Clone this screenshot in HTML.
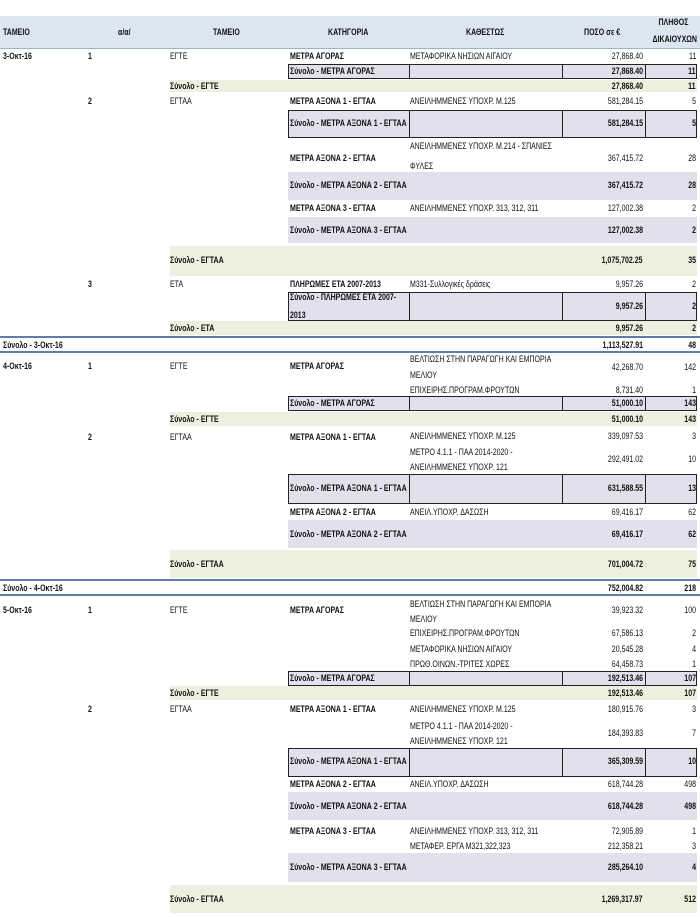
<!DOCTYPE html>
<html><head><meta charset="utf-8"><style>
body{margin:0;width:700px;height:917px;background:#fff;position:relative;overflow:hidden;font-family:"Liberation Sans Narrow","Liberation Sans",sans-serif;font-size:9px;color:#111}
div{position:absolute;white-space:nowrap;line-height:12px;transform:scaleX(0.78);transform-origin:left center}
.b{font-weight:bold}
.n{right:57px;text-align:right;transform-origin:right center}
.c{right:4px;text-align:right;transform-origin:right center}
.hd,.pu,.gr,.vl,.bl,.ln{transform:none}
.hd{left:0;width:700px;top:16px;height:32px;background:#dce6f1}
.pu{background:#e4dfec;left:288px;width:409px}
.gr{background:#ebf1de;left:170px;width:527px}
.bx{border:1px solid #222;box-sizing:border-box}
.vl{width:1px;background:#222}
.bl{left:0;width:700px;height:2px;background:#5b7fa8}
</style></head><body>
<div class="hd"></div>
<div class="b" style="left:3px;top:26px">ΤΑΜΕΙΟ</div>
<div class="b" style="left:118px;top:26px">α/α/</div>
<div class="b" style="left:213px;top:26px">ΤΑΜΕΙΟ</div>
<div class="b" style="left:328px;top:26px">ΚΑΤΗΓΟΡΙΑ</div>
<div class="b" style="left:466px;top:26px">ΚΑΘΕΣΤΩΣ</div>
<div class="b" style="left:584px;top:26px">ΠΟΣΟ σε €</div>
<div class="b c" style="right:12px;top:16px">ΠΛΗΘΟΣ</div>
<div class="b c" style="right:3px;top:33px">ΔΙΚΑΙΟΥΧΩΝ</div>
<div class="ln" style="left:0;top:48px;width:700px;height:1px;background:#9bb3d0"></div>

<!-- 3-Oct -->
<div class="pu bx" style="top:64px;height:15px"></div>
<div class="gr" style="top:80px;height:12px"></div>
<div class="pu bx" style="top:110px;height:28px"></div>
<div class="pu" style="top:172px;height:28px"></div>
<div class="pu" style="top:217px;height:26px"></div>
<div class="gr" style="top:246px;height:30px"></div>
<div class="pu bx" style="top:292px;height:29px"></div>
<div class="gr" style="top:321px;height:14px"></div>
<div class="vl" style="left:409px;top:64px;height:15px"></div><div class="vl" style="left:562px;top:64px;height:15px"></div><div class="vl" style="left:645px;top:64px;height:15px"></div>
<div class="vl" style="left:409px;top:110px;height:28px"></div><div class="vl" style="left:562px;top:110px;height:28px"></div><div class="vl" style="left:645px;top:110px;height:28px"></div>
<div class="vl" style="left:409px;top:292px;height:29px"></div><div class="vl" style="left:562px;top:292px;height:29px"></div><div class="vl" style="left:645px;top:292px;height:29px"></div>

<div class="b" style="left:3px;top:50px">3-Οκτ-16</div>
<div class="b" style="left:88px;top:50px">1</div>
<div style="left:170px;top:50px">ΕΓΤΕ</div>
<div class="b" style="left:290px;top:50px">ΜΕΤΡΑ ΑΓΟΡΑΣ</div>
<div style="left:410px;top:50px">ΜΕΤΑΦΟΡΙΚΑ ΝΗΣΙΩΝ ΑΙΓΑΙΟΥ</div>
<div class="n" style="top:50px">27,868.40</div><div class="c" style="top:50px">11</div>
<div class="b" style="left:290px;top:65px">Σύνολο - ΜΕΤΡΑ ΑΓΟΡΑΣ</div>
<div class="n b" style="top:65px">27,868.40</div><div class="c b" style="top:65px">11</div>
<div class="b" style="left:170px;top:80px">Σύνολο - ΕΓΤΕ</div>
<div class="n b" style="top:80px">27,868.40</div><div class="c b" style="top:80px">11</div>
<div class="b" style="left:88px;top:95px">2</div>
<div style="left:170px;top:95px">ΕΓΤΑΑ</div>
<div class="b" style="left:290px;top:95px">ΜΕΤΡΑ ΑΞΟΝΑ 1 - ΕΓΤΑΑ</div>
<div style="left:410px;top:95px">ΑΝΕΙΛΗΜΜΕΝΕΣ ΥΠΟΧΡ. Μ.125</div>
<div class="n" style="top:95px">581,284.15</div><div class="c" style="top:95px">5</div>
<div class="b" style="left:290px;top:117px">Σύνολο - ΜΕΤΡΑ ΑΞΟΝΑ 1 - ΕΓΤΑΑ</div>
<div class="n b" style="top:117px">581,284.15</div><div class="c b" style="top:117px">5</div>
<div class="b" style="left:290px;top:152px">ΜΕΤΡΑ ΑΞΟΝΑ 2 - ΕΓΤΑΑ</div>
<div style="left:410px;top:140px">ΑΝΕΙΛΗΜΜΕΝΕΣ ΥΠΟΧΡ. Μ.214 - ΣΠΑΝΙΕΣ</div>
<div style="left:410px;top:160px">ΦΥΛΕΣ</div>
<div class="n" style="top:152px">367,415.72</div><div class="c" style="top:152px">28</div>
<div class="b" style="left:290px;top:179px">Σύνολο - ΜΕΤΡΑ ΑΞΟΝΑ 2 - ΕΓΤΑΑ</div>
<div class="n b" style="top:179px">367,415.72</div><div class="c b" style="top:179px">28</div>
<div class="b" style="left:290px;top:202px">ΜΕΤΡΑ ΑΞΟΝΑ 3 - ΕΓΤΑΑ</div>
<div style="left:410px;top:202px">ΑΝΕΙΛΗΜΜΕΝΕΣ ΥΠΟΧΡ. 313, 312, 311</div>
<div class="n" style="top:202px">127,002.38</div><div class="c" style="top:202px">2</div>
<div class="b" style="left:290px;top:224px">Σύνολο - ΜΕΤΡΑ ΑΞΟΝΑ 3 - ΕΓΤΑΑ</div>
<div class="n b" style="top:224px">127,002.38</div><div class="c b" style="top:224px">2</div>
<div class="b" style="left:170px;top:254px">Σύνολο - ΕΓΤΑΑ</div>
<div class="n b" style="top:254px">1,075,702.25</div><div class="c b" style="top:254px">35</div>
<div class="b" style="left:88px;top:278px">3</div>
<div style="left:170px;top:278px">ΕΤΑ</div>
<div class="b" style="left:290px;top:278px">ΠΛΗΡΩΜΕΣ ΕΤΑ 2007-2013</div>
<div style="left:410px;top:278px">Μ331-Συλλογικές δράσεις</div>
<div class="n" style="top:278px">9,957.26</div><div class="c" style="top:278px">2</div>
<div class="b" style="left:290px;top:291px">Σύνολο - ΠΛΗΡΩΜΕΣ ΕΤΑ 2007-</div>
<div class="b" style="left:290px;top:309px">2013</div>
<div class="n b" style="top:300px">9,957.26</div><div class="c b" style="top:300px">2</div>
<div class="b" style="left:170px;top:322px">Σύνολο - ΕΤΑ</div>
<div class="n b" style="top:322px">9,957.26</div><div class="c b" style="top:322px">2</div>
<div class="bl" style="top:336px"></div>
<div class="b" style="left:3px;top:339px">Σύνολο - 3-Οκτ-16</div>
<div class="n b" style="top:339px">1,113,527.91</div><div class="c b" style="top:339px">48</div>
<div class="bl" style="top:351px"></div>

<!-- 4-Oct -->
<div class="pu bx" style="top:396px;height:15px"></div>
<div class="gr" style="top:412px;height:14px"></div>
<div class="pu bx" style="top:474px;height:30px"></div>
<div class="pu" style="top:520px;height:28px"></div>
<div class="gr" style="top:550px;height:28px"></div>
<div class="vl" style="left:409px;top:396px;height:15px"></div><div class="vl" style="left:562px;top:396px;height:15px"></div><div class="vl" style="left:645px;top:396px;height:15px"></div>
<div class="vl" style="left:409px;top:474px;height:30px"></div><div class="vl" style="left:562px;top:474px;height:30px"></div><div class="vl" style="left:645px;top:474px;height:30px"></div>

<div class="b" style="left:3px;top:360px">4-Οκτ-16</div>
<div class="b" style="left:88px;top:360px">1</div>
<div style="left:170px;top:360px">ΕΓΤΕ</div>
<div class="b" style="left:290px;top:360px">ΜΕΤΡΑ ΑΓΟΡΑΣ</div>
<div style="left:410px;top:353px">ΒΕΛΤΙΩΣΗ ΣΤΗΝ ΠΑΡΑΓΩΓΗ ΚΑΙ ΕΜΠΟΡΙΑ</div>
<div style="left:410px;top:369px">ΜΕΛΙΟΥ</div>
<div class="n" style="top:361px">42,268.70</div><div class="c" style="top:361px">142</div>
<div style="left:410px;top:384px">ΕΠΙΧΕΙΡΗΣ.ΠΡΟΓΡΑΜ.ΦΡΟΥΤΩΝ</div>
<div class="n" style="top:384px">8,731.40</div><div class="c" style="top:384px">1</div>
<div class="b" style="left:290px;top:397px">Σύνολο - ΜΕΤΡΑ ΑΓΟΡΑΣ</div>
<div class="n b" style="top:397px">51,000.10</div><div class="c b" style="top:397px">143</div>
<div class="b" style="left:170px;top:413px">Σύνολο - ΕΓΤΕ</div>
<div class="n b" style="top:413px">51,000.10</div><div class="c b" style="top:413px">143</div>
<div class="b" style="left:88px;top:431px">2</div>
<div style="left:170px;top:431px">ΕΓΤΑΑ</div>
<div class="b" style="left:290px;top:431px">ΜΕΤΡΑ ΑΞΟΝΑ 1 - ΕΓΤΑΑ</div>
<div style="left:410px;top:430px">ΑΝΕΙΛΗΜΜΕΝΕΣ ΥΠΟΧΡ. Μ.125</div>
<div class="n" style="top:430px">339,097.53</div><div class="c" style="top:430px">3</div>
<div style="left:410px;top:446px">ΜΕΤΡΟ 4.1.1 - ΠΑΑ 2014-2020 -</div>
<div style="left:410px;top:461px">ΑΝΕΙΛΗΜΜΕΝΕΣ ΥΠΟΧΡ. 121</div>
<div class="n" style="top:453px">292,491.02</div><div class="c" style="top:453px">10</div>
<div class="b" style="left:290px;top:482px">Σύνολο - ΜΕΤΡΑ ΑΞΟΝΑ 1 - ΕΓΤΑΑ</div>
<div class="n b" style="top:482px">631,588.55</div><div class="c b" style="top:482px">13</div>
<div class="b" style="left:290px;top:506px">ΜΕΤΡΑ ΑΞΟΝΑ 2 - ΕΓΤΑΑ</div>
<div style="left:410px;top:506px">ΑΝΕΙΛ.ΥΠΟΧΡ. ΔΑΣΩΣΗ</div>
<div class="n" style="top:506px">69,416.17</div><div class="c" style="top:506px">62</div>
<div class="b" style="left:290px;top:528px">Σύνολο - ΜΕΤΡΑ ΑΞΟΝΑ 2 - ΕΓΤΑΑ</div>
<div class="n b" style="top:528px">69,416.17</div><div class="c b" style="top:528px">62</div>
<div class="b" style="left:170px;top:558px">Σύνολο - ΕΓΤΑΑ</div>
<div class="n b" style="top:558px">701,004.72</div><div class="c b" style="top:558px">75</div>
<div class="bl" style="top:579px"></div>
<div class="b" style="left:3px;top:582px">Σύνολο - 4-Οκτ-16</div>
<div class="n b" style="top:582px">752,004.82</div><div class="c b" style="top:582px">218</div>
<div class="bl" style="top:594px"></div>

<!-- 5-Oct -->
<div class="pu bx" style="top:671px;height:15px"></div>
<div class="gr" style="top:686px;height:14px"></div>
<div class="pu bx" style="top:748px;height:29px"></div>
<div class="pu" style="top:792px;height:28px"></div>
<div class="pu" style="top:853px;height:29px"></div>
<div class="gr" style="top:885px;height:28px"></div>
<div class="vl" style="left:409px;top:671px;height:15px"></div><div class="vl" style="left:562px;top:671px;height:15px"></div><div class="vl" style="left:645px;top:671px;height:15px"></div>
<div class="vl" style="left:409px;top:748px;height:29px"></div><div class="vl" style="left:562px;top:748px;height:29px"></div><div class="vl" style="left:645px;top:748px;height:29px"></div>

<div class="b" style="left:3px;top:604px">5-Οκτ-16</div>
<div class="b" style="left:88px;top:604px">1</div>
<div style="left:170px;top:604px">ΕΓΤΕ</div>
<div class="b" style="left:290px;top:604px">ΜΕΤΡΑ ΑΓΟΡΑΣ</div>
<div style="left:410px;top:598px">ΒΕΛΤΙΩΣΗ ΣΤΗΝ ΠΑΡΑΓΩΓΗ ΚΑΙ ΕΜΠΟΡΙΑ</div>
<div style="left:410px;top:613px">ΜΕΛΙΟΥ</div>
<div class="n" style="top:604px">39,923.32</div><div class="c" style="top:604px">100</div>
<div style="left:410px;top:627px">ΕΠΙΧΕΙΡΗΣ.ΠΡΟΓΡΑΜ.ΦΡΟΥΤΩΝ</div>
<div class="n" style="top:627px">67,586.13</div><div class="c" style="top:627px">2</div>
<div style="left:410px;top:643px">ΜΕΤΑΦΟΡΙΚΑ ΝΗΣΙΩΝ ΑΙΓΑΙΟΥ</div>
<div class="n" style="top:643px">20,545.28</div><div class="c" style="top:643px">4</div>
<div style="left:410px;top:658px">ΠΡΩΘ.ΟΙΝΩΝ.-ΤΡΙΤΕΣ ΧΩΡΕΣ</div>
<div class="n" style="top:658px">64,458.73</div><div class="c" style="top:658px">1</div>
<div class="b" style="left:290px;top:672px">Σύνολο - ΜΕΤΡΑ ΑΓΟΡΑΣ</div>
<div class="n b" style="top:672px">192,513.46</div><div class="c b" style="top:672px">107</div>
<div class="b" style="left:170px;top:687px">Σύνολο - ΕΓΤΕ</div>
<div class="n b" style="top:687px">192,513.46</div><div class="c b" style="top:687px">107</div>
<div class="b" style="left:88px;top:703px">2</div>
<div style="left:170px;top:703px">ΕΓΤΑΑ</div>
<div class="b" style="left:290px;top:703px">ΜΕΤΡΑ ΑΞΟΝΑ 1 - ΕΓΤΑΑ</div>
<div style="left:410px;top:703px">ΑΝΕΙΛΗΜΜΕΝΕΣ ΥΠΟΧΡ. Μ.125</div>
<div class="n" style="top:703px">180,915.76</div><div class="c" style="top:703px">3</div>
<div style="left:410px;top:720px">ΜΕΤΡΟ 4.1.1 - ΠΑΑ 2014-2020 -</div>
<div style="left:410px;top:735px">ΑΝΕΙΛΗΜΜΕΝΕΣ ΥΠΟΧΡ. 121</div>
<div class="n" style="top:727px">184,393.83</div><div class="c" style="top:727px">7</div>
<div class="b" style="left:290px;top:755px">Σύνολο - ΜΕΤΡΑ ΑΞΟΝΑ 1 - ΕΓΤΑΑ</div>
<div class="n b" style="top:755px">365,309.59</div><div class="c b" style="top:755px">10</div>
<div class="b" style="left:290px;top:778px">ΜΕΤΡΑ ΑΞΟΝΑ 2 - ΕΓΤΑΑ</div>
<div style="left:410px;top:778px">ΑΝΕΙΛ.ΥΠΟΧΡ. ΔΑΣΩΣΗ</div>
<div class="n" style="top:778px">618,744.28</div><div class="c" style="top:778px">498</div>
<div class="b" style="left:290px;top:800px">Σύνολο - ΜΕΤΡΑ ΑΞΟΝΑ 2 - ΕΓΤΑΑ</div>
<div class="n b" style="top:800px">618,744.28</div><div class="c b" style="top:800px">498</div>
<div class="b" style="left:290px;top:825px">ΜΕΤΡΑ ΑΞΟΝΑ 3 - ΕΓΤΑΑ</div>
<div style="left:410px;top:825px">ΑΝΕΙΛΗΜΜΕΝΕΣ ΥΠΟΧΡ. 313, 312, 311</div>
<div class="n" style="top:825px">72,905.89</div><div class="c" style="top:825px">1</div>
<div style="left:410px;top:840px">ΜΕΤΑΦΕΡ. ΕΡΓΑ Μ321,322,323</div>
<div class="n" style="top:840px">212,358.21</div><div class="c" style="top:840px">3</div>
<div class="b" style="left:290px;top:861px">Σύνολο - ΜΕΤΡΑ ΑΞΟΝΑ 3 - ΕΓΤΑΑ</div>
<div class="n b" style="top:861px">285,264.10</div><div class="c b" style="top:861px">4</div>
<div class="b" style="left:170px;top:893px">Σύνολο - ΕΓΤΑΑ</div>
<div class="n b" style="top:893px">1,269,317.97</div><div class="c b" style="top:893px">512</div>
</body></html>
